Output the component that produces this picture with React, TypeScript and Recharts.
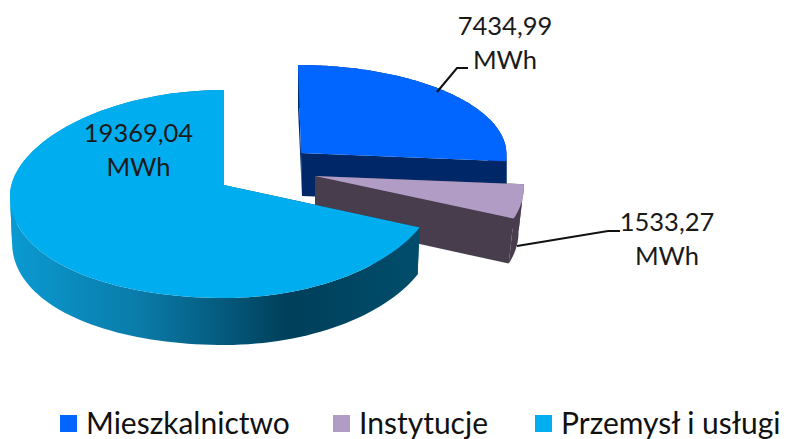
import React from "react";
import { PieChart, Pie, Legend } from "recharts";

const categories = ["Mieszkalnictwo", "Instytucje", "Przemysł i usługi"];
const values = [7434.99, 1533.27, 19369.04];
const faceColors = ["#0066ff", "#b09cc4", "#00aeef"];
const wallColors = ["#002868", "#473d4d", "url(#bigWall)"];
const unit = "MWh";

const data = categories.map((name, i) => ({ name, value: values[i], fill: faceColors[i] }));

// perspective settings for each exploded slice, relative to the main pie centre
const slices = [
  { dx: 77, dy: -32, rxK: 0.96, up: 88, down: 105, sag: 0, rise: 0, lean: 3, depth: 43, shrink: 1 },
  { dx: 91, dy: -9, rxK: 0.97, up: 88, down: 105, sag: 0, rise: 0, lean: 22, depth: 45, shrink: 0.975 },
  { dx: 0, dy: 0, rxK: 1, up: 95, down: 113, sag: 11, rise: 4, lean: 0, depth: 47, shrink: 0.99 },
];
const labels = [
  { x: 505, y: 25, line: "M437 92 L457 68 L468 68" },
  { x: 667, y: 221, line: "M517 246 L608 231 L620 231" },
  { x: 138.5, y: 132, line: "" },
];

const FONT = "Lato, 'Open Sans', sans-serif";

function Slice3D(props: any) {
  const { cx, cy, outerRadius, startAngle, endAngle, fill, index } = props;
  const s = slices[index];
  const ax = cx + s.dx;
  const ay = cy + s.dy;
  const rx = outerRadius * s.rxK;
  const t0 = ((90 - startAngle) * Math.PI) / 180;
  const t1 = ((90 - endAngle) * Math.PI) / 180;
  const rim = (t: number, bottom = false) => {
    const sn = Math.sin(t);
    const cs = Math.cos(t);
    let x = rx * sn - s.lean * cs;
    let y = cs > 0 ? -s.up * cs : -s.down * cs;
    y += sn < 0 ? s.sag * sn * sn : -s.rise * sn * sn;
    if (bottom) {
      x *= s.shrink;
      y += s.depth;
    }
    return [ax + x, ay + y];
  };
  const steps = 120;
  const top: number[][] = [];
  const bot: number[][] = [];
  for (let k = 0; k <= steps; k++) {
    const t = t0 + ((t1 - t0) * k) / steps;
    top.push(rim(t));
    bot.push(rim(t, true));
  }
  const pts = (a: number[][]) => a.map((p) => `${p[0].toFixed(1)},${p[1].toFixed(1)}`).join(" ");
  // split the outer wall wherever the rim turns back horizontally, so the strip never folds over itself
  const strips: [number, number][] = [];
  let from = 0;
  for (let k = 1; k < steps; k++) {
    const a = top[k][0] - top[k - 1][0];
    const b = top[k + 1][0] - top[k][0];
    if (a * b < 0) {
      strips.push([from, k]);
      from = k;
    }
  }
  strips.push([from, steps]);
  const apex = [ax, ay];
  const apexB = [ax + (index === 0 ? 1 : 0), ay + s.depth];
  const wall = wallColors[index];
  return (
    <g>
      <defs>
        <linearGradient id="bigWall" gradientUnits="userSpaceOnUse" x1={10} y1={0} x2={420} y2={0}>
          <stop offset="0" stopColor="#0a9ad2" />
          <stop offset="0.32" stopColor="#0a7ba8" />
          <stop offset="0.68" stopColor="#003f5a" />
          <stop offset="1" stopColor="#004e6c" />
        </linearGradient>
      </defs>
      {strips.map(([a, b]) => (
        <polygon key={a} points={pts([...top.slice(a, b + 1), ...bot.slice(a, b + 1).reverse()])} fill={wall} />
      ))}
      <polygon points={pts([apex, top[0], bot[0], apexB])} fill={wall} />
      <polygon points={pts([apex, top[steps], bot[steps], apexB])} fill={wall} />
      <polygon points={pts([apex, ...top])} fill={fill} />
    </g>
  );
}

function SliceLabel(props: any) {
  const { index, value } = props;
  const l = labels[index];
  const text = Number(value).toFixed(2).replace(".", ",");
  return (
    <g>
      {l.line ? <path d={l.line} fill="none" stroke="#111" strokeWidth={2} /> : null}
      <text x={l.x} y={l.y} textAnchor="middle" dominantBaseline="central" fontFamily={FONT} fontSize={25.5} fill="#1a1a1a">
        {text}
      </text>
      <text x={l.x} y={l.y + 34} textAnchor="middle" dominantBaseline="central" fontFamily={FONT} fontSize={25.5} fill="#1a1a1a">
        {unit}
      </text>
    </g>
  );
}

const legendSquares = [60, 333, 535];

function LegendContent(props: any) {
  const items = props.payload || [];
  return (
    <div style={{ position: "relative", width: 786, height: 33 }}>
      {items.map((it: any, i: number) => (
        <div key={i}>
          <span style={{ position: "absolute", left: legendSquares[i], top: 9, width: 17, height: 17, background: it.color }} />
          <span
            style={{
              position: "absolute",
              left: legendSquares[i] + 26,
              top: 0,
              lineHeight: "33px",
              fontSize: 30,
              fontFamily: FONT,
              color: "#111",
              whiteSpace: "nowrap",
            }}
          >
            {it.value}
          </span>
        </div>
      ))}
    </div>
  );
}

export default function App() {
  return (
    <div style={{ position: "absolute", left: 0, top: 0, width: 786, height: 439 }}>
      <PieChart width={786} height={439} margin={{ top: 0, right: 0, bottom: 0, left: 0 }}>
        <Pie
          data={data}
          dataKey="value"
          nameKey="name"
          cx={224}
          cy={185}
          innerRadius={0}
          outerRadius={214}
          startAngle={90}
          endAngle={-270}
          isAnimationActive={false}
          shape={Slice3D}
          label={SliceLabel}
          labelLine={false}
          stroke="none"
        />
        <Legend
          content={LegendContent}
          itemSorter={null}
          wrapperStyle={{ position: "absolute", left: 0, top: 406, width: 786, height: 33 }}
        />
      </PieChart>
    </div>
  );
}
